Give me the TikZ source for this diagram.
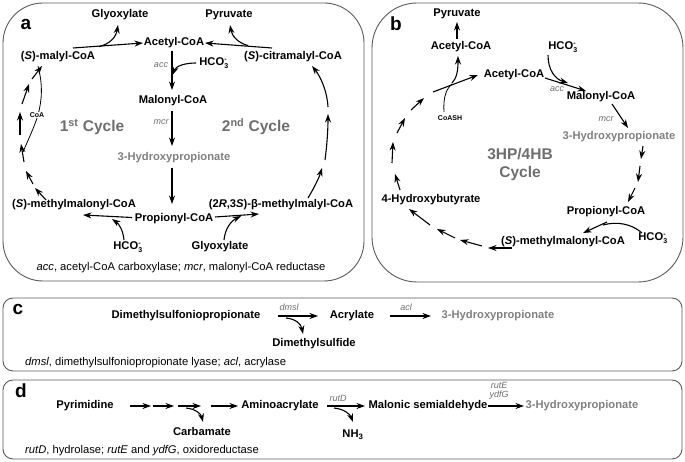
\documentclass[tikz,border=0pt]{standalone}
\usepackage{fontspec}
\setmainfont{Liberation Sans}
\usetikzlibrary{arrows.meta}
\definecolor{txtgray}{RGB}{128,128,128}
\definecolor{cycgray}{RGB}{110,110,110}
\definecolor{enzgray}{RGB}{110,110,110}
\definecolor{boxgray}{RGB}{90,90,90}
\newcommand{\hcothree}{HCO\rlap{\raisebox{-2.4pt}{\fontsize{7}{7}\selectfont 3}}\raisebox{3.8pt}{\fontsize{7}{7}\selectfont -}}
\tikzset{
  lab/.style={font=\bfseries\fontsize{11.2}{12}\selectfont, inner sep=1pt},
  glab/.style={lab, text=txtgray},
  enz/.style={font=\itshape\fontsize{9}{9}\selectfont, text=enzgray, inner sep=0pt},
  foot/.style={font=\fontsize{11.2}{12}\selectfont, inner sep=0pt},
  cyc/.style={font=\bfseries\fontsize{15.5}{18}\selectfont, text=cycgray, inner sep=0pt},
  letter/.style={font=\bfseries\fontsize{19}{20}\selectfont, inner sep=0pt},
  small/.style={font=\bfseries\fontsize{7}{8}\selectfont, inner sep=1pt},
  arr/.style={-{Stealth[length=8.5pt,width=6pt]}, line width=1.1pt},
  thinl/.style={line width=0.8pt},
  panel/.style={draw=boxgray, line width=0.9pt}
}
\begin{document}
\begin{tikzpicture}[x=1pt,y=-1pt]
\useasboundingbox (0,0) rectangle (685,462);
% ---------- panel frames
\draw[panel, rounded corners=40pt] (3,3) rectangle (364,281);
\draw[panel, rounded corners=45pt] (372,3) rectangle (683,282);
\draw[panel, rounded corners=10pt] (3,298) rectangle (682,371);
\draw[panel, rounded corners=10pt] (3,380) rectangle (682,459);

% ---------- panel a
\node[letter] (la) at (26,24) {a};
\node[lab] (aGly) at (120,15) {Glyoxylate};
\node[lab] (aPyr) at (229,15) {Pyruvate};
\node[lab] (aAc) at (174,43) {Acetyl-CoA};
\node[lab] (aMal) at (58,57) {(\textit{S})-malyl-CoA};
\node[lab] (aCit) at (293,57) {(\textit{S})-citramalyl-CoA};
\node[lab] (aH1) at (213,63) {\hcothree};
\node[enz] (aacc) at (161,65) {acc};
\node[lab] (aMalo) at (173,101) {Malonyl-CoA};
\node[enz] (amcr) at (161,122) {mcr};
\node[glab] (a3HP) at (174,158) {3-Hydroxypropionate};
\node[lab] (aMM) at (74,205) {(\textit{S})-methylmalonyl-CoA};
\node[lab] (aProp) at (174,219) {Propionyl-CoA};
\node[lab] (aBM) at (281,205) {(2\textit{R},3\textit{S})-β-methylmalyl-CoA};
\node[lab] (aH2) at (127,247) {\hcothree};
\node[lab] (aGly2) at (220,247) {Glyoxylate};
\node[cyc] (cyc1) at (92,127) {1\textsuperscript{st} Cycle};
\node[cyc] (cyc2) at (256,127) {2\textsuperscript{nd} Cycle};
\node[foot] (afoot) at (181,268) {\textit{acc}, acetyl-CoA carboxylase; \textit{mcr}, malonyl-CoA reductase};

\draw[arr] (73,48) -- (143,43);
\draw[arr] (99,46.6) .. controls (110,44) and (116,37) .. (118,25);
\draw[arr] (272,48) -- (205,43);
\draw[arr] (248,45.5) .. controls (238,43) and (232,36) .. (230,25);
\draw[arr] (172,51) -- (172,90);
\draw[arr] (196,63) .. controls (185,63) and (176,66) .. (172.5,75);
\draw[arr] (172,111) -- (172,146);
\draw[arr] (172,168) -- (172,204);
\draw[arr] (132,217.5) -- (83,215);
\draw[arr] (124,240) .. controls (123,230) and (119,224) .. (112,219);
\draw[arr] (215,217) -- (259,214);
\draw[arr] (224,240) .. controls (225,229) and (231,221) .. (241,216);
% first cycle
\draw[arr] (46,200) -- (35,188);
\draw[arr] (33,184) -- (26,171);
\draw[arr] (24,162) -- (21,144);
\draw[arr] (20,135) -- (20,112);
\draw[arr] (22,104) -- (29,84);
\draw[arr] (32,79) -- (42,66);
\draw[thinl] (38,66) .. controls (43,85) and (42,100) .. (38,115) .. controls (34,128) and (28,140) .. (23,152);
\node[small, fill=white] (aCoA) at (37,115) {CoA};
% second cycle
\draw[arr] (308,198) .. controls (314,188) and (319,178) .. (322,168);
\draw[arr] (325,160) .. controls (327,145) and (328,130) .. (328,114);
\draw[arr] (328,107) .. controls (327,90) and (320,76) .. (312,66);

% ---------- panel b
\node[letter] (lb) at (396,24) {b};
\node[lab] (bPyr) at (457,14) {Pyruvate};
\node[lab] (bAcT) at (461,47) {Acetyl-CoA};
\node[lab] (bH1) at (562,47) {\hcothree};
\node[lab] (bAc) at (514,75) {Acetyl-CoA};
\node[enz] (bacc) at (557,89) {acc};
\node[lab] (bMalo) at (601,97) {Malonyl-CoA};
\node[enz] (bmcr) at (606,119) {mcr};
\node[glab] (b3HP) at (619,137) {3-Hydroxypropionate};
\node[cyc, align=center] (bcyc) at (520,164) {3HP/4HB\\Cycle};
\node[lab] (bProp) at (606,212) {Propionyl-CoA};
\node[lab] (bH2) at (652,238) {\hcothree};
\node[lab] (bMM) at (563,242) {(\textit{S})-methylmalonyl-CoA};
\node[lab] (b4HB) at (431,200) {4-Hydroxybutyrate};
\node[small] (bCoASH) at (450,118) {CoASH};

\draw[arr] (457,39) -- (457,22);
\draw[arr] (433,92) -- (478,75);
\draw[arr] (452,83) .. controls (457,78) and (458,70) .. (458,56);
\draw[thinl] (444,112) .. controls (443,98) and (446,89) .. (452,84);
\draw[arr] (411,110) -- (424,98);
\draw[arr] (397,133) -- (405,118);
\draw[arr] (392,163) -- (393,142);
\draw[arr] (400,190) -- (395,174);
\draw[arr] (512,248) -- (488,248);
\draw[arr] (482,246) -- (460,240);
\draw[arr] (455,238) -- (437,229);
\draw[arr] (430,225) -- (409,209);
\draw[arr] (643,146) -- (641,159);
\draw[arr] (640,166) -- (638,182);
\draw[arr] (635,188) -- (628,202);
\draw[arr] (607,222) -- (583,233);
\draw[line width=1.1pt] (642,233) .. controls (632,224) and (617,221) .. (603,225);
\draw[arr] (545,78) -- (586,91);
\draw[arr] (548,55) .. controls (548,70) and (555,79) .. (568,83);
\draw[arr] (612,104) -- (628,128);

% ---------- panel c
\node[letter] (lc) at (18,309) {c};
\node[lab] (cD) at (186,316) {Dimethylsulfoniopropionate};
\node[enz] (cdms) at (289,307) {dmsl};
\node[lab] (cA) at (352,316) {Acrylate};
\node[enz] (cacl) at (406,307) {acl};
\node[glab] (c3) at (498,316) {3-Hydroxypropionate};
\node[lab] (cDS) at (314,344) {Dimethylsulfide};
\node[foot, anchor=west] (cfoot) at (25,363) {\textit{dmsl}, dimethylsulfoniopropionate lyase; \textit{acl}, acrylase};
\draw[arr] (278,316) -- (318,316);
\draw[arr] (286,318) .. controls (296,319) and (301,324) .. (303,334);
\draw[arr] (390,316) -- (431,316);

% ---------- panel d
\node[letter] (ld) at (21,391) {d};
\node[lab] (dP) at (85,406) {Pyrimidine};
\node[lab] (dA) at (280,406) {Aminoacrylate};
\node[lab] (dC) at (202,431) {Carbamate};
\node[enz] (drutD) at (338,398) {rutD};
\node[lab] (dN) at (353,435) {NH\textsubscript{3}};
\node[lab] (dM) at (428,406) {Malonic semialdehyde};
\node[enz, align=center] (drut) at (499,391) {rutE\\ydfG};
\node[glab] (d3) at (582,406) {3-Hydroxypropionate};
\node[foot, anchor=west] (dfoot) at (25,451) {\textit{rutD}, hydrolase; \textit{rutE} and \textit{ydfG}, oxidoreductase};
\draw[arr] (130,406) -- (151,406);
\draw[arr] (153,406) -- (174,406);
\draw[arr] (178,406) -- (201,406);
\draw[arr] (186,408) .. controls (196,409) and (201,414) .. (203,422);
\draw[arr] (211,406) -- (238,406);
\draw[arr] (327,406) -- (365,406);
\draw[arr] (334,408) .. controls (344,409) and (350,414) .. (353,422);
\draw[arr] (488,406) -- (524,406);
\end{tikzpicture}
\end{document}
